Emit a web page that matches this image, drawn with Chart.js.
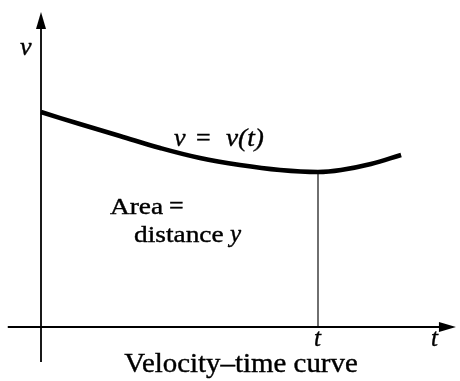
<!DOCTYPE html>
<html>
<head>
<meta charset="utf-8">
<script src="https://cdn.jsdelivr.net/npm/chart.js@4"></script>
<style>
  html, body { margin: 0; padding: 0; background: #fff; }
</style>
</head>
<body>
<canvas id="velChart" width="460" height="381"></canvas>
<script>
// curve samples (t in units of the marked t, v arbitrary)
const times = [0, 0.14, 0.285, 0.43, 0.574, 0.718, 0.863, 1.0, 1.083, 1.191, 1.3];
const velocity = [2.15, 2.03, 1.91, 1.79, 1.69, 1.62, 1.57, 1.55, 1.57, 1.63, 1.72];
const markT = 1.0;
const markV = 1.55;

const curvePts = times.map((t, i) => ({ x: t, y: velocity[i] }));

const serif = "'Liberation Serif', 'Times New Roman', serif";

// draw text, optionally stretched a little sideways to match the print
function txt(ctx, s, x, y, font, sx) {
  ctx.save();
  ctx.font = font;
  ctx.translate(x, y);
  ctx.scale(sx || 1, 1);
  ctx.fillText(s, 0, 0);
  ctx.strokeText(s, 0, 0);
  ctx.restore();
}

const drawExtras = {
  id: "drawExtras",
  afterDatasetsDraw(chart) {
    const ctx = chart.ctx;
    const xs = chart.scales.x;
    const ys = chart.scales.y;
    const ox = xs.getPixelForValue(0);
    const oy = ys.getPixelForValue(0);
    ctx.save();
    ctx.fillStyle = "#000";
    ctx.strokeStyle = "#000";

    // arrow heads
    const topY = ys.getPixelForValue(3.15);
    ctx.beginPath();
    ctx.moveTo(ox, topY);
    ctx.lineTo(ox - 5, topY + 17);
    ctx.lineTo(ox + 5, topY + 17);
    ctx.closePath();
    ctx.fill();

    const endX = xs.getPixelForValue(1.498);
    ctx.beginPath();
    ctx.moveTo(endX, oy);
    ctx.lineTo(endX - 17, oy - 5);
    ctx.lineTo(endX - 17, oy + 5);
    ctx.closePath();
    ctx.fill();

    ctx.lineWidth = 0.4;
    ctx.textBaseline = "alphabetic";
    ctx.textAlign = "left";

    const it = "italic 26px " + serif;
    txt(ctx, "v", 20, 55, it);
    txt(ctx, "t", xs.getPixelForValue(markT) - 4, 346, "italic 25px " + serif);
    txt(ctx, "t", 431, 346, "italic 25px " + serif);

    txt(ctx, "v", 174, 146, it);
    txt(ctx, "=", 196, 146, "26px " + serif);
    txt(ctx, "v(t)", 226, 146, it, 1.05);

    txt(ctx, "Area", 110, 214, "24px " + serif, 1.14);
    txt(ctx, "=", 169, 214, "26px " + serif);
    txt(ctx, "distance", 134, 242, "24px " + serif, 1.14);
    txt(ctx, "y", 230, 242, "italic 25px " + serif);

    ctx.textAlign = "center";
    txt(ctx, "Velocity\u2013time curve", 241, 372, "27px " + serif, 1.07);
    ctx.restore();
  }
};

new Chart(document.getElementById("velChart"), {
  type: "scatter",
  data: {
    datasets: [
      {
        data: curvePts,
        showLine: true,
        borderColor: "#000",
        borderWidth: 4.5,
        tension: 0.4,
        pointRadius: 0
      },
      {
        data: [{ x: -0.12, y: 0 }, { x: 1.48, y: 0 }],
        showLine: true,
        borderColor: "#000",
        borderWidth: 1.8,
        pointRadius: 0
      },
      {
        data: [{ x: 0, y: -0.35 }, { x: 0, y: 3.0 }],
        showLine: true,
        borderColor: "#000",
        borderWidth: 1.8,
        pointRadius: 0
      },
      {
        data: [{ x: markT, y: 0 }, { x: markT, y: markV }],
        showLine: true,
        borderColor: "#222",
        borderWidth: 1.3,
        pointRadius: 0
      }
    ]
  },
  options: {
    responsive: false,
    animation: false,
    devicePixelRatio: 1,
    layout: { padding: 0 },
    plugins: { legend: { display: false }, tooltip: { enabled: false } },
    scales: {
      x: { type: "linear", display: false, min: -41 / 277, max: 419 / 277 },
      y: { type: "linear", display: false, min: -0.54, max: 3.27 }
    }
  },
  plugins: [drawExtras]
});
</script>
</body>
</html>
